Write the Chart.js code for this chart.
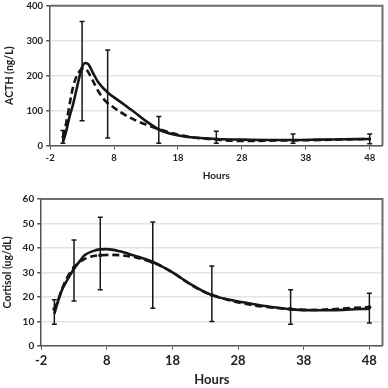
<!DOCTYPE html>
<html><head><meta charset="utf-8">
<script src="https://cdn.jsdelivr.net/npm/chart.js@4/dist/chart.umd.min.js"></script>
<style>
html,body{margin:0;padding:0;background:#fff;width:388px;height:388px;overflow:hidden;position:relative}
.w{position:absolute;left:0;width:388px}
</style></head><body>
<div class="w" style="top:-3px;height:187px"><canvas id="c1"></canvas></div>
<div class="w" style="top:190px;height:198px"><canvas id="c2"></canvas></div>
<script>
// ---- data ----
const xTicks = [-2, 8, 18, 28, 38, 48];
const sampleHours = [0, 3, 7, 15, 24, 36, 48];

// ACTH (ng/L)
const acthObserved = [25, 220, 122, 47, 17, 15, 19];
const acthLow  = [7, 71, 22, 7, 7, 7, 5];
const acthHigh = [43, 355, 273, 83, 41, 33, 33];
const acthFitHours = [0, 0.5, 1, 1.6, 2.5, 3, 3.5, 4, 4.7, 5.5, 7, 9, 11, 13, 15, 17, 19, 22, 24, 28, 32, 36, 40, 44, 48];
const acthFit      = [10, 40, 80, 119, 190, 225, 236, 232, 208, 182, 152, 125, 98, 70, 46, 33, 26, 21, 19, 17, 16, 16, 17, 18, 19];

// Cortisol (ug/dL)
const cortObserved = [15, 32, 37, 34, 20.8, 15, 15.8];
const cortLow  = [8.8, 18.3, 22.9, 15.3, 9.9, 8.8, 9.3];
const cortHigh = [18.8, 43.2, 52.5, 50.6, 32.6, 22.9, 21.5];
const cortFitHours = [0, 1, 2, 3, 4, 4.6, 6, 7, 8, 10, 12, 15, 18, 20.7, 24, 29, 32, 36, 40, 44, 48];
const cortFit      = [13, 21.8, 27, 31.5, 35, 37, 38.8, 39.4, 39.5, 38.6, 37, 34.3, 30, 25.3, 20.7, 17.7, 16.3, 14.9, 14.5, 14.7, 15.2];

// ---- helpers ----
const pts = (xs, ys) => xs.map((x, i) => ({x, y: ys[i]}));
function errBars(xs, lo, hi) {
  const out = [];
  xs.forEach((x, i) => { out.push({x, y: lo[i]}, {x, y: hi[i]}, {x, y: null}); });
  return out;
}
const ink = '#161616';
const frame = {
  id: 'frame',
  afterDraw(chart) {
    const a = chart.chartArea, c = chart.ctx;
    c.save(); c.strokeStyle = '#6e6e6e'; c.lineWidth = 2;
    c.beginPath(); c.moveTo(a.left, a.top); c.lineTo(a.right, a.top); c.lineTo(a.right, a.bottom); c.stroke();
    c.restore();
  }
};

function makeChart(id, o) {
  return new Chart(document.getElementById(id), {
    type: 'line',
    data: { datasets: [
      { data: errBars(sampleHours, o.lo, o.hi), borderColor: ink, borderWidth: 1.5, tension: 0, spanGaps: false,
        pointStyle: 'line', pointRadius: 2.5, pointBorderWidth: 1.5, pointBorderColor: ink },
      { data: pts(o.fitX, o.fit), borderColor: ink, borderWidth: 2.6, tension: 0.4, cubicInterpolationMode: 'monotone', pointRadius: 0 },
      { data: pts(sampleHours, o.obs), borderColor: ink, borderWidth: 2.6, borderDash: [7, 4], tension: 0.4,
        pointRadius: o.markR, pointBackgroundColor: ink, pointBorderWidth: 0 }
    ]},
    options: {
      responsive: true, maintainAspectRatio: false, animation: false,
      layout: { padding: o.pad },
      plugins: { legend: { display: false }, tooltip: { enabled: false } },
      scales: {
        x: { type: 'linear', min: -2, max: 50,
          afterBuildTicks: s => { s.ticks = xTicks.map(v => ({value: v})); },
          grid: { color: 'transparent', tickColor: '#555', tickLength: 4, drawOnChartArea: false },
          border: { color: '#555', width: 1.5 },
          ticks: { color: '#222', padding: 3, font: { family: 'Lato', weight: 'bold', size: o.xTickSize } },
          title: { display: true, text: 'Hours', color: '#222', padding: {top: o.xTitlePadTop, bottom: 0},
                   font: { family: 'Lato', weight: 'bold', size: o.xTitleSize } } },
        y: { min: 0, max: o.ymax,
          ticks: { stepSize: o.ystep, color: '#222', padding: 3, font: { family: 'Lato', weight: 'bold', size: o.yTickSize } },
          grid: { color: '#e4e4e4', lineWidth: 1.5, tickColor: '#555', tickLength: 4 },
          border: { color: '#555', width: 1.5 },
          title: { display: true, text: o.ytitle, color: '#222', padding: {top: 0, bottom: o.yTitlePad},
                   font: { family: 'Lato', weight: 'bold', size: 10.5 } } }
      }
    },
    plugins: [frame]
  });
}

makeChart('c1', { lo: acthLow, hi: acthHigh, fitX: acthFitHours, fit: acthFit, obs: acthObserved, markR: 1.5,
  ymax: 400, ystep: 100, ytitle: 'ACTH (ng/L)', xTickSize: 9.5, yTickSize: 9.5, xTitleSize: 10, xTitlePadTop: 3,
  yTitlePad: 8, pad: {left: 3, right: 0, top: 0, bottom: 2} });
makeChart('c2', { lo: cortLow, hi: cortHigh, fitX: cortFitHours, fit: cortFit, obs: cortObserved, markR: 2,
  ymax: 60, ystep: 10, ytitle: 'Cortisol (ug/dL)', xTickSize: 13, yTickSize: 10, xTitleSize: 13, xTitlePadTop: 1,
  yTitlePad: 6, pad: {left: 1, right: 0, top: 4, bottom: 0} });
</script>
</body></html>
